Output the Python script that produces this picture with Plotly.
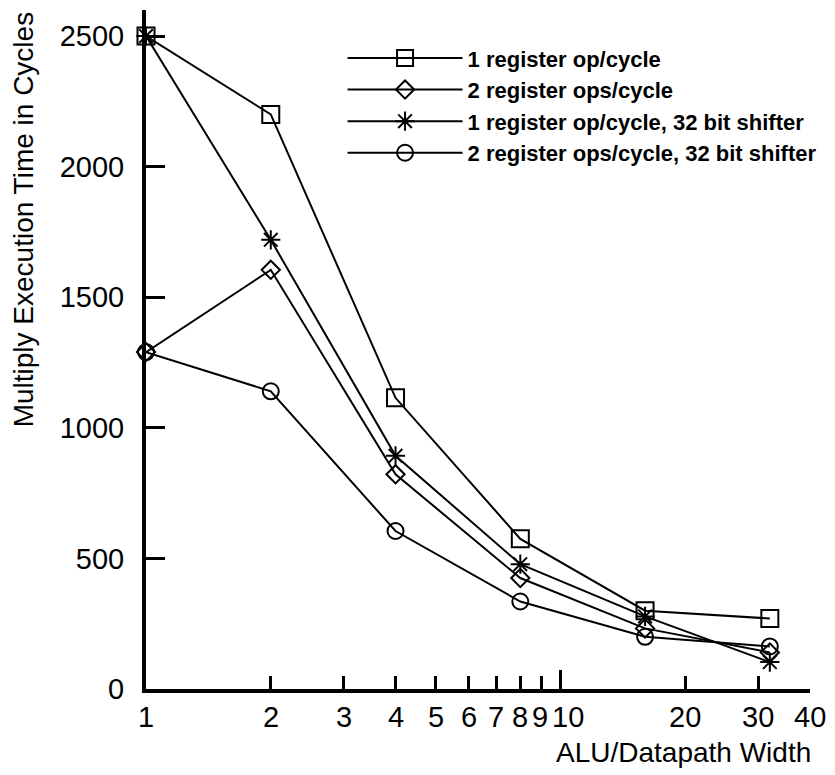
import math
import plotly.graph_objects as go

# ALU / datapath widths (log axis)
widths = [1, 2, 4, 8, 16, 32]

# Multiply execution time in cycles for each configuration
one_reg = [2500, 2200, 1115, 575, 300, 270]
two_reg = [1290, 1605, 822, 425, 232, 140]
one_reg_shift = [2500, 1720, 893, 478, 278, 103]
two_reg_shift = [1290, 1140, 605, 335, 200, 163]

series_names = [
    "1 register op/cycle",
    "2 register ops/cycle",
    "1 register op/cycle, 32 bit shifter",
    "2 register ops/cycle, 32 bit shifter",
]
series_values = [one_reg, two_reg, one_reg_shift, two_reg_shift]
symbols = ["square-open", "diamond-open", "asterisk-open", "circle-open"]
sizes = [17, 14, 16, 16]

x_tickvals = [1, 2, 3, 4, 5, 6, 7, 8, 9, 10, 20, 30, 40]
x_ticktext = ["1", "2", "3", "4", "5", "6", "7", "8", "9", "10", "20", "30", "40"]
y_tickvals = [0, 500, 1000, 1500, 2000, 2500]

x_title = "ALU/Datapath Width"
y_title = "Multiply Execution Time in Cycles"

FONT = "Liberation Sans, Arial, Helvetica, sans-serif"
TICK_SIZE = 29

fig = go.Figure()
for name, vals, sym, sz in zip(series_names, series_values, symbols, sizes):
    fig.add_trace(go.Scatter(
        x=widths, y=vals, name=name, mode="lines+markers",
        line=dict(color="black", width=2),
        marker=dict(symbol=sym, size=sz, color="black",
                    line=dict(color="black", width=2)),
        cliponaxis=False,
    ))

# longer tick mark at the decade (x = 10)
fig.add_shape(type="line", xref="x", yref="paper", x0=10, x1=10, y0=0, y1=0.028,
              line=dict(color="black", width=3))

# width-axis tick labels; the crowded "9" and "10" are packed edge to edge
for v, t in zip(x_tickvals, x_ticktext):
    anchor, shift = "center", 0
    if v == 9:
        anchor, shift = "right", 7
    elif v == 10:
        anchor, shift = "left", -9
    fig.add_annotation(text=t, xref="x", yref="paper", x=math.log10(v), y=-0.041,
                       xanchor=anchor, yanchor="middle", xshift=shift,
                       showarrow=False, borderpad=0,
                       font=dict(size=TICK_SIZE, family=FONT, color="black"))

# axis titles: x title flush with the right end of the axis, y title from the top
fig.add_annotation(text=x_title, xref="paper", yref="paper", x=1.005, y=-0.094,
                   xanchor="right", yanchor="middle", showarrow=False,
                   font=dict(size=28, family=FONT, color="black"))
fig.add_annotation(text=y_title, xref="paper", yref="paper", x=-0.184, y=1.0,
                   xanchor="center", yanchor="top", textangle=-90, showarrow=False,
                   font=dict(size=28, family=FONT, color="black"))

fig.update_layout(
    width=835, height=775,
    margin=dict(l=146, r=25, t=10, b=86),
    paper_bgcolor="white", plot_bgcolor="white",
    font=dict(family=FONT, color="black"),
    showlegend=True,
    legend=dict(
        x=0.296, y=0.96, xanchor="left", yanchor="top",
        bgcolor="rgba(0,0,0,0)",
        font=dict(size=22, family=FONT, weight="bold"),
        itemwidth=115, tracegroupgap=0,
    ),
    xaxis=dict(
        type="log", range=[0, math.log10(40)],
        tickmode="array", tickvals=x_tickvals, showticklabels=False,
        ticks="inside", ticklen=13, tickwidth=3, tickcolor="black",
        showline=True, linewidth=4, linecolor="black",
        showgrid=False, zeroline=False,
    ),
    yaxis=dict(
        range=[0, 2600],
        tickmode="array", tickvals=y_tickvals,
        ticks="inside", ticklen=19, tickwidth=3, tickcolor="black",
        showline=True, linewidth=4, linecolor="black",
        showgrid=False, zeroline=False,
        tickfont=dict(size=TICK_SIZE, family=FONT),
        ticklabelstandoff=12,
    ),
)

fig.write_html("out.html")
